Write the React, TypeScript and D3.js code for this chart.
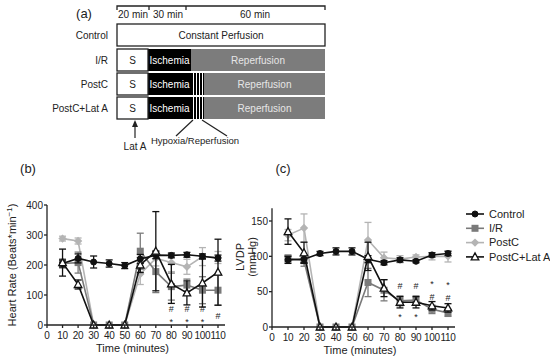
import * as d3 from 'd3'

// time points (minutes)
const times = [10, 20, 30, 40, 50, 60, 70, 80, 90, 100, 110]
const groups = ['Control', 'I/R', 'PostC', 'PostC+Lat A']

// heart rate (beats/min), mean and error
const hrControl = [205, 222, 210, 205, 198, 220, 233, 232, 234, 229, 223]
const hrControlErr = [12, 15, 20, 12, 10, 15, 12, 8, 8, 8, 10]
const hrIR = [205, 208, 0, 0, 0, 246, 178, 128, 133, 116, 116]
const hrIRErr = [15, 35, 0, 0, 0, 60, 70, 45, 20, 45, 50]
const hrPostC = [288, 280, 0, 0, 0, 170, 222, 208, 194, 228, 225]
const hrPostCErr = [8, 10, 0, 0, 0, 35, 25, 30, 25, 30, 20]
const hrLatA = [208, 135, 0, 0, 0, 200, 246, 137, 107, 140, 176]
const hrLatAErr = [45, 15, 0, 0, 0, 25, 132, 65, 40, 80, 110]

// LVDP (mmHg), mean and error
const lvControl = [95, 96, 104, 107, 107, 96, 91, 95, 93, 102, 104]
const lvControlErr = [5, 5, 3, 5, 5, 5, 3, 3, 2, 3, 3]
const lvIR = [97, 94, 0, 0, 0, 63, 52, 37, 38, 25, 20]
const lvIRErr = [5, 8, 0, 0, 0, 20, 15, 7, 6, 6, 5]
const lvPostC = [130, 140, 0, 0, 0, 123, 98, 96, 99, 100, 100]
const lvPostCErr = [8, 20, 0, 0, 0, 25, 8, 5, 3, 5, 8]
const lvLatA = [135, 105, 0, 0, 0, 100, 55, 35, 35, 30, 27]
const lvLatAErr = [18, 15, 0, 0, 0, 20, 12, 8, 8, 6, 6]

// significance marks: [time, symbol, value]
const hrMarks: [number, string, number][] = [
  [80, '#', 54], [90, '#', 54], [100, '#', 54], [110, '#', 32],
  [80, '*', 12], [90, '*', 12], [100, '*', 12],
]
const lvMarks: [number, string, number][] = [
  [80, '#', 58], [90, '#', 58], [100, '#', 43], [110, '#', 41],
  [80, '*', 15], [90, '*', 15], [100, '*', 61], [110, '*', 59],
]

const xTicks = [0, 10, 20, 30, 40, 50, 60, 70, 80, 90, 100, 110]
const hrTicks = [0, 100, 200, 300, 400]
const lvTicks = [0, 50, 100, 150]

const FONT = '"Liberation Sans", Arial, sans-serif'
const TXT = '#222'

const styles = [
  { color: '#111', shape: 'circle', fill: '#111' },
  { color: '#7a7a7a', shape: 'square', fill: '#7a7a7a' },
  { color: '#b4b4b4', shape: 'diamond', fill: '#b4b4b4' },
  { color: '#111', shape: 'triangle', fill: '#fff' },
]

function Marker({ x, y, shape, color, fill }: any) {
  if (shape === 'circle') return <circle cx={x} cy={y} r={3} fill={fill} stroke={color} />
  if (shape === 'square') return <rect x={x - 3.5} y={y - 3.5} width={7} height={7} fill={fill} />
  if (shape === 'diamond') return <path d={`M${x},${y - 4.2}L${x + 4.2},${y}L${x},${y + 4.2}L${x - 4.2},${y}Z`} fill={fill} />
  return <path d={`M${x},${y - 4}L${x + 3.8},${y + 3}L${x - 3.8},${y + 3}Z`} fill={fill} stroke={color} strokeWidth={1.3} />
}

function Panel({ left, right, top, bottom, yMax, yTop, ticks, series, marks }: any) {
  const x = d3.scaleLinear().domain([0, 110]).range([left, right])
  const y = d3.scaleLinear().domain([0, yMax]).range([bottom, top])
  const line = d3.line<number>().x((_, i) => x(times[i])).y((d) => y(d))
  return (
    <g fontFamily={FONT} fill={TXT}>
      {series.map((s: any, k: number) => {
        const st = styles[s.style]
        return (
          <g key={k}>
            <path d={line(s.values) || ''} fill="none" stroke={st.color} strokeWidth={1.6} />
            {s.values.map((v: number, i: number) => s.err[i] > 0 && (
              <g key={i} stroke={st.color} strokeWidth={1.3}>
                <line x1={x(times[i])} x2={x(times[i])} y1={y(v - s.err[i])} y2={y(v + s.err[i])} />
                <line x1={x(times[i]) - 3.5} x2={x(times[i]) + 3.5} y1={y(v - s.err[i])} y2={y(v - s.err[i])} />
                <line x1={x(times[i]) - 3.5} x2={x(times[i]) + 3.5} y1={y(v + s.err[i])} y2={y(v + s.err[i])} />
              </g>
            ))}
            {s.values.map((v: number, i: number) => (
              <Marker key={i} x={x(times[i])} y={y(v)} {...st} />
            ))}
          </g>
        )
      })}
      <g stroke="#222" strokeWidth={1.3}>
        <line x1={left} x2={left} y1={bottom} y2={y(yTop)} />
        <line x1={left} x2={right + 7} y1={bottom} y2={bottom} />
        {ticks.map((t: number) => <line key={t} x1={left - 3} x2={left} y1={y(t)} y2={y(t)} />)}
        {xTicks.map((t) => <line key={t} x1={x(t)} x2={x(t)} y1={bottom} y2={bottom + 3} />)}
      </g>
      {ticks.map((t: number) => (
        <text key={t} x={left - 4} y={y(t)} dy="0.35em" textAnchor="end" fontSize={10}>{t}</text>
      ))}
      {xTicks.map((t) => (
        <text key={t} x={x(t)} y={bottom + 14} textAnchor="middle" fontSize={10} letterSpacing={-0.3}>{t}</text>
      ))}
      <text x={(left + right) / 2} y={bottom + 27} textAnchor="middle" fontSize={11}>Time (minutes)</text>
      {marks.map(([t, s, v]: any, i: number) => (
        <text key={i} x={x(t)} y={y(v)} dy="0.35em" textAnchor="middle" fontSize={9}>{s}</text>
      ))}
    </g>
  )
}

function Protocol() {
  const x0 = 117, x1 = 325, sEnd = 148, iEnd = 191
  const rows = [24, 49, 73, 97]
  const h = 22
  return (
    <g fontFamily={FONT} fontSize={10} fill={TXT}>
      <text x={84} y={13} dy="0.35em" textAnchor="middle" fontSize={13}>(a)</text>
      <g stroke="#222" strokeWidth={1.3} fill="none">
        <path d={`M${x0},10V6H${x1}V10`} />
        <line x1={149} x2={149} y1={6} y2={10} />
        <line x1={186} x2={186} y1={6} y2={10} />
      </g>
      <text x={133} y={18} textAnchor="middle">20 min</text>
      <text x={168} y={18} textAnchor="middle">30 min</text>
      <text x={255} y={18} textAnchor="middle">60 min</text>
      {groups.map((g, i) => (
        <text key={g} x={108} y={rows[i] + h / 2} dy="0.35em" textAnchor="end">{g}</text>
      ))}
      <rect x={x0} y={rows[0]} width={x1 - x0} height={h} fill="#fff" stroke="#222" strokeWidth={1.3} />
      <text x={(x0 + x1) / 2} y={rows[0] + h / 2} dy="0.35em" textAnchor="middle">Constant Perfusion</text>
      {rows.slice(1).map((r, i) => (
        <g key={r}>
          <rect x={iEnd} y={r} width={x1 - iEnd} height={h} fill="#7c7c7c" />
          <rect x={sEnd} y={r} width={iEnd - sEnd} height={h} fill="#000" />
          <rect x={x0} y={r} width={sEnd - x0} height={h} fill="#fff" stroke="#222" strokeWidth={1.3} />
          {i > 0 && (
            <g>
              <rect x={iEnd} y={r} width={13} height={h} fill="#000" />
              {[193.5, 196.5, 199.5, 202.5].map((sx) => (
                <line key={sx} x1={sx} x2={sx} y1={r} y2={r + h} stroke="#fff" strokeWidth={1} />
              ))}
            </g>
          )}
          <text x={(x0 + sEnd) / 2} y={r + h / 2} dy="0.35em" textAnchor="middle">S</text>
          <text x={(sEnd + iEnd) / 2} y={r + h / 2} dy="0.35em" textAnchor="middle" fill="#fff">Ischemia</text>
          <text x={(i > 0 ? 204 : iEnd) / 2 + x1 / 2} y={r + h / 2} dy="0.35em" textAnchor="middle" fill="#e6e6e6">Reperfusion</text>
        </g>
      ))}
      <g stroke="#222" strokeWidth={1.2}>
        <line x1={135} x2={135} y1={138} y2={125} />
        <line x1={193} x2={176} y1={120} y2={136} />
        <line x1={202} x2={227} y1={120} y2={136} />
      </g>
      <path d="M135,120L132,127L138,127Z" fill="#222" />
      <text x={135} y={150} textAnchor="middle">Lat A</text>
      <text x={195} y={144} textAnchor="middle" fontSize={9.5}>Hypoxia/Reperfusion</text>
    </g>
  )
}

export default function App() {
  const hrSeries = [
    { values: hrPostC, err: hrPostCErr, style: 2 },
    { values: hrIR, err: hrIRErr, style: 1 },
    { values: hrControl, err: hrControlErr, style: 0 },
    { values: hrLatA, err: hrLatAErr, style: 3 },
  ]
  const lvSeries = [
    { values: lvPostC, err: lvPostCErr, style: 2 },
    { values: lvIR, err: lvIRErr, style: 1 },
    { values: lvControl, err: lvControlErr, style: 0 },
    { values: lvLatA, err: lvLatAErr, style: 3 },
  ]
  return (
    <svg width={550} height={360} style={{ position: 'absolute', left: 0, top: 0, background: '#fff' }}>
      <Protocol />
      <text x={28} y={168} dy="0.35em" textAnchor="middle" fontSize={13} fontFamily={FONT} fill={TXT}>(b)</text>
      <text x={283} y={168} dy="0.35em" textAnchor="middle" fontSize={13} fontFamily={FONT} fill={TXT}>(c)</text>
      <Panel left={47} right={218} top={205} bottom={325} yMax={400} yTop={400}
        ticks={hrTicks} series={hrSeries} marks={hrMarks} />
      <Panel left={272} right={448} top={221} bottom={327} yMax={150} yTop={168}
        ticks={lvTicks} series={lvSeries} marks={lvMarks} />
      <text transform="translate(16,265) rotate(-90)" textAnchor="middle" fontSize={11} fontFamily={FONT} fill={TXT}>
        Heart Rate (Beats*min<tspan dy="-4" fontSize={8}>−1</tspan><tspan dy="4">)</tspan>
      </text>
      <text transform="translate(244,257) rotate(-90)" textAnchor="middle" fontSize={11} fontFamily={FONT} fill={TXT}>LVDP</text>
      <text transform="translate(256,257) rotate(-90)" textAnchor="middle" fontSize={11} fontFamily={FONT} fill={TXT}>(mmHg)</text>
      <g fontFamily={FONT} fontSize={11} fill={TXT}>
        {groups.map((g, i) => {
          const st = styles[i]
          const ly = 214 + i * 14.3
          return (
            <g key={g}>
              <line x1={466} x2={484} y1={ly} y2={ly} stroke={st.color} strokeWidth={1.6} />
              <Marker x={475} y={ly} {...st} />
              <text x={489} y={ly} dy="0.35em">{g}</text>
            </g>
          )
        })}
      </g>
    </svg>
  )
}
